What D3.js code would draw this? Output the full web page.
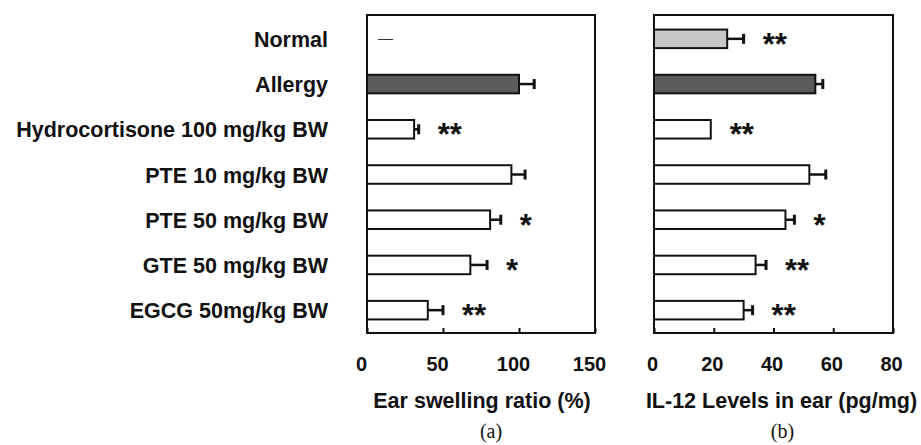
<!DOCTYPE html>
<html>
<head>
<meta charset="utf-8">
<script src="https://cdn.jsdelivr.net/npm/d3@7"></script>
<style>
  body { margin: 0; background: #fff; }
  svg { display: block; }
</style>
</head>
<body>
<div id="chart"></div>
<script>
// groups, top to bottom
const groups = ["Normal", "Allergy", "Hydrocortisone 100 mg/kg BW", "PTE 10 mg/kg BW",
  "PTE 50 mg/kg BW", "GTE 50 mg/kg BW", "EGCG 50mg/kg BW"]

// (a) ear swelling ratio (%)
const swelling = [0, 100, 31, 95, 81, 68, 40]
const swellingErr = [0, 10, 3, 9, 7, 11, 10]
const swellingSig = ["", "", "**", "", "*", "*", "**"]
const swellingTicks = [0, 50, 100, 150]

// (b) IL-12 levels in ear (pg/mg)
const il12 = [24.5, 54, 19, 52, 44, 34, 30]
const il12Err = [5.5, 2.5, 0, 5.5, 3, 3.5, 3]
const il12Sig = ["**", "", "**", "", "*", "**", "**"]
const il12Ticks = [0, 20, 40, 60, 80]

const chartWidth = 921
const chartHeight = 445
const frameTop = 15, frameBottom = 333

const svg = d3.select("#chart").append("svg")
  .attr("width", chartWidth)
  .attr("height", chartHeight)

const y = d3.scaleBand()
  .domain(groups)
  .range([16, 333])
  .paddingInner(0.59)
  .paddingOuter(0.3)

// category labels
svg.append("g").selectAll("text").data(groups).enter()
  .append("text")
  .attr("x", 328)
  .attr("y", d => y(d) + y.bandwidth() / 2 + 8)
  .attr("text-anchor", "end")
  .attr("font-family", "'Liberation Sans', Arial, sans-serif")
  .attr("font-weight", "bold")
  .attr("font-size", 21.5)
  .attr("fill", "#111")
  .text(d => d)

const panels = [
  { values: swelling, errs: swellingErr, sig: swellingSig, ticks: swellingTicks,
    range: [367, 595], title: "Ear swelling ratio (%)", tag: "(a)",
    tickDx: -6, titleDx: 1, tagDx: 10 },
  { values: il12, errs: il12Err, sig: il12Sig, ticks: il12Ticks,
    range: [654, 893], title: "IL-12 Levels in ear (pg/mg)", tag: "(b)",
    tickDx: -2, titleDx: 8, tagDx: 9 }
]

const fillFor = (i, p) => {
  if (i === 1) return "#5b5b5b" // allergy
  if (i === 0 && p === 1) return "#c6c6c6" // normal
  return "#fff"
}

panels.forEach((p, pi) => {
  const x = d3.scaleLinear()
    .domain(d3.extent(p.ticks))
    .range(p.range)
  const rows = groups.map((g, i) => ({ g: g, i: i, v: p.values[i], e: p.errs[i], s: p.sig[i] }))
  const panel = svg.append("g")

  // axis with inward ticks
  const axis = panel.append("g")
    .attr("transform", "translate(0," + frameBottom + ")")
    .call(d3.axisBottom(x).tickValues(p.ticks).tickSize(-5).tickPadding(24).tickFormat(d3.format("d")))
  axis.select(".domain").remove()
  axis.selectAll("line").attr("stroke", "#111").attr("stroke-width", 2)
  axis.selectAll("text")
    .attr("dx", p.tickDx)
    .attr("font-family", "'Liberation Sans', Arial, sans-serif")
    .attr("font-weight", "bold")
    .attr("font-size", 20)
    .attr("fill", "#111")

  // frame
  panel.append("rect")
    .attr("x", x.range()[0])
    .attr("y", frameTop)
    .attr("width", x.range()[1] - x.range()[0])
    .attr("height", frameBottom - frameTop)
    .attr("fill", "none")
    .attr("stroke", "#111")
    .attr("stroke-width", 2)

  const barRows = rows.filter(d => d.v > 0)

  // error bars
  const errRows = barRows.filter(d => d.e > 0)
  panel.append("g").selectAll("line").data(errRows).enter()
    .append("line")
    .attr("x1", d => x(d.v))
    .attr("x2", d => x(d.v + d.e))
    .attr("y1", d => y(d.g) + y.bandwidth() / 2)
    .attr("y2", d => y(d.g) + y.bandwidth() / 2)
    .attr("stroke", "#111")
    .attr("stroke-width", 2.5)
  panel.append("g").selectAll("line").data(errRows).enter()
    .append("line")
    .attr("x1", d => x(d.v + d.e))
    .attr("x2", d => x(d.v + d.e))
    .attr("y1", d => y(d.g) + y.bandwidth() / 2 - 5)
    .attr("y2", d => y(d.g) + y.bandwidth() / 2 + 5)
    .attr("stroke", "#111")
    .attr("stroke-width", 3)

  // bars
  panel.append("g").selectAll("rect").data(barRows).enter()
    .append("rect")
    .attr("x", x(0))
    .attr("y", d => y(d.g))
    .attr("width", d => x(d.v) - x(0))
    .attr("height", y.bandwidth())
    .attr("fill", d => fillFor(d.i, pi))
    .attr("stroke", "#111")
    .attr("stroke-width", 2)

  // zero value shown as a dash
  panel.append("g").selectAll("text").data(rows.filter(d => d.v === 0)).enter()
    .append("text")
    .attr("x", x(0) + 11)
    .attr("y", d => y(d.g) + y.bandwidth() / 2 + 4)
    .attr("font-family", "'Liberation Sans', Arial, sans-serif")
    .attr("font-size", 15)
    .attr("fill", "#333")
    .text("\u2014")

  // significance marks
  panel.append("g").selectAll("text").data(rows.filter(d => d.s)).enter()
    .append("text")
    .attr("x", d => x(d.v + d.e) + 19)
    .attr("y", d => y(d.g) + y.bandwidth() / 2 + 16)
    .attr("font-family", "'Liberation Sans', Arial, sans-serif")
    .attr("font-weight", "bold")
    .attr("font-size", 31)
    .attr("fill", "#111")
    .text(d => d.s)

  const mid = (x.range()[0] + x.range()[1]) / 2
  panel.append("text")
    .attr("x", mid + p.titleDx)
    .attr("y", 408)
    .attr("text-anchor", "middle")
    .attr("font-family", "'Liberation Sans', Arial, sans-serif")
    .attr("font-weight", "bold")
    .attr("font-size", 21.5)
    .attr("fill", "#111")
    .text(p.title)

  panel.append("text")
    .attr("x", mid + p.tagDx)
    .attr("y", 438)
    .attr("text-anchor", "middle")
    .attr("font-family", "'Liberation Serif', 'Times New Roman', serif")
    .attr("font-size", 20)
    .attr("fill", "#111")
    .text(p.tag)
})
</script>
</body>
</html>
